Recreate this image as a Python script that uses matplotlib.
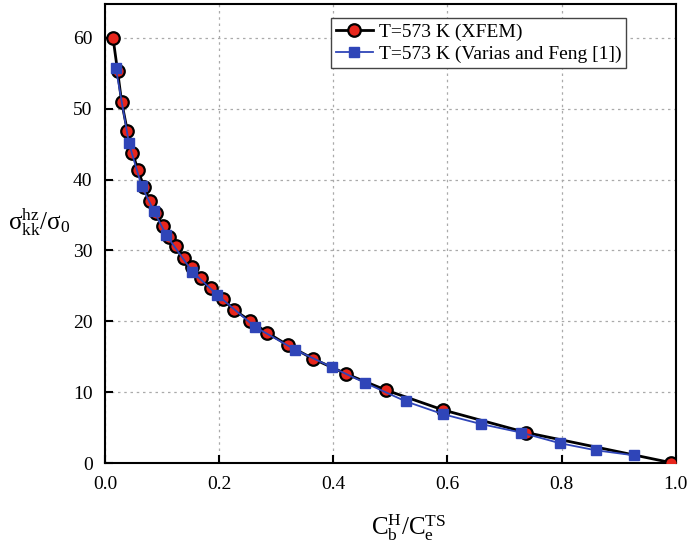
import numpy as np
import matplotlib
matplotlib.use('Agg')
import matplotlib.pyplot as plt

plt.rcParams['font.family'] = ['Liberation Serif', 'DejaVu Serif']
plt.rcParams['mathtext.fontset'] = 'stix'

# XFEM results (circles)
x_xfem = [0.014, 0.022, 0.029, 0.039, 0.048, 0.058, 0.068, 0.078, 0.089, 0.101,
          0.112, 0.124, 0.139, 0.153, 0.168, 0.185, 0.206, 0.226, 0.254, 0.284,
          0.321, 0.365, 0.422, 0.492, 0.592, 0.738, 0.992]
y_xfem = [60.0, 55.3, 51.0, 46.9, 43.8, 41.3, 39.0, 37.0, 35.3, 33.5,
          31.9, 30.6, 28.9, 27.6, 26.1, 24.7, 23.2, 21.6, 20.1, 18.4,
          16.6, 14.7, 12.6, 10.3, 7.5, 4.3, 0.05]

# Varias and Feng [1] (squares)
x_ref = [0.019, 0.042, 0.064, 0.086, 0.107, 0.153, 0.197, 0.263, 0.333, 0.398,
         0.456, 0.527, 0.592, 0.659, 0.729, 0.797, 0.860, 0.926]
y_ref = [55.7, 45.1, 39.1, 35.5, 32.2, 27.0, 23.7, 19.2, 16.0, 13.5,
         11.3, 8.7, 6.9, 5.5, 4.3, 2.8, 1.8, 1.1]

xticks = [0.0, 0.2, 0.4, 0.6, 0.8, 1.0]
yticks = [0, 10, 20, 30, 40, 50, 60]

fig = plt.figure(figsize=(6.91, 5.48), dpi=100)
ax = fig.add_axes([0.152, 0.155, 0.826, 0.838])

ax.plot(x_xfem, y_xfem, '-o', color='black', lw=2, markersize=9,
        markerfacecolor='#e8261c', markeredgecolor='black', markeredgewidth=1.6,
        label='T=573 K (XFEM)', zorder=3)
ax.plot(x_ref, y_ref, '-s', color='#2f45b8', lw=1.3, markersize=7,
        markerfacecolor='#2f45b8', markeredgecolor='#2f45b8',
        label='T=573 K (Varias and Feng [1])', zorder=4)

ax.set_xlim(0, 1.0)
ax.set_ylim(0, 64.8)
ax.set_xticks(xticks)
ax.set_yticks(yticks)
ax.set_xticklabels(['%.1f' % v for v in xticks])
ax.grid(True, linestyle=(0, (2, 3)), color='#aaaaaa', lw=0.9)
ax.tick_params(direction='in', length=6, width=1.5, labelsize=14, pad=9)
for s in ax.spines.values():
    s.set_linewidth(1.5)

leg = ax.legend(loc='upper right', bbox_to_anchor=(0.93, 0.99), fontsize=14,
                fancybox=False, edgecolor='#444444', framealpha=1,
                handlelength=1.9, borderpad=0.25, labelspacing=0.25, handletextpad=0.3)
leg.get_frame().set_linewidth(1.0)

fig.text(0.012, 0.595, r'$\mathregular{σ_{kk}^{hz}/σ_0}$', fontsize=18, va='center')
fig.text(0.592, 0.038, r'$\mathregular{C_b^H/C_e^{TS}}$', fontsize=18, ha='center', va='center')

plt.savefig('out.png', dpi=100)
